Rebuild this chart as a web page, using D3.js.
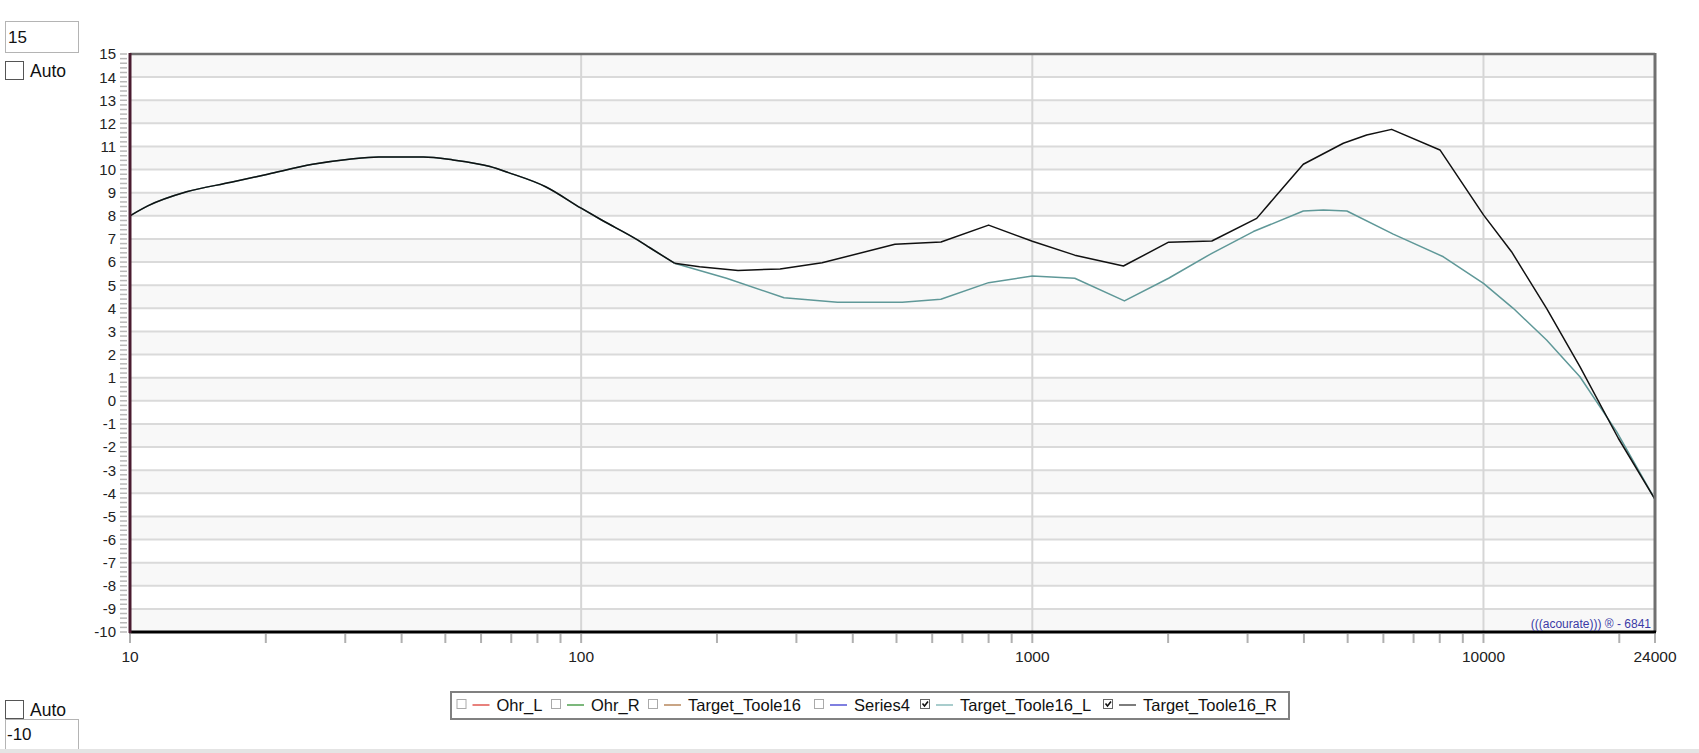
<!DOCTYPE html>
<html><head><meta charset="utf-8">
<script src="https://cdn.jsdelivr.net/npm/d3@7"></script>
<style>
html,body{margin:0;padding:0;background:#fff;overflow:hidden;}
svg{display:block;font-family:"Liberation Sans",Arial,sans-serif;}
</style></head>
<body>
<svg id="chart" width="1699" height="753"></svg>
<script>
// ---- data ----
const freqR = [10, 10.95, 13.35, 16.75, 20.2, 25.4, 30.6, 35.6, 44.7, 52, 62.8, 69, 83.4, 100, 111, 133.6, 142, 161, 183, 222.7, 276, 342, 496, 627.5, 800, 1000, 1242, 1592, 2005, 2500, 3143, 3481, 3987, 4891, 5510, 6258, 8009, 10000, 11540, 13800, 16360, 19900, 24000];
const valR  = [8.0, 8.43, 9.04, 9.45, 9.8, 10.23, 10.45, 10.55, 10.55, 10.42, 10.13, 9.87, 9.26, 8.33, 7.82, 6.95, 6.62, 5.95, 5.8, 5.64, 5.7, 5.97, 6.77, 6.87, 7.6, 6.9, 6.3, 5.83, 6.86, 6.91, 7.89, 8.9, 10.23, 11.14, 11.5, 11.74, 10.85, 8.04, 6.45, 4.0, 1.48, -1.62, -4.26];
const freqL = [10, 10.95, 13.35, 16.75, 20.2, 25.4, 30.6, 35.6, 44.7, 52, 62.8, 69, 83.4, 100, 111, 133.6, 142, 161, 210, 281.6, 370, 515, 627, 800, 1000, 1242, 1600, 2005, 2500, 3090, 3987, 4416, 4980, 6310, 8150, 10000, 11640, 13800, 16360, 19730, 24000];
const valL  = [8.0, 8.43, 9.04, 9.45, 9.8, 10.23, 10.45, 10.55, 10.55, 10.42, 10.13, 9.87, 9.26, 8.33, 7.82, 6.95, 6.62, 5.95, 5.3, 4.46, 4.26, 4.26, 4.39, 5.11, 5.4, 5.3, 4.32, 5.3, 6.38, 7.32, 8.21, 8.25, 8.21, 7.21, 6.23, 5.08, 4.0, 2.63, 1.04, -1.33, -4.26];
const xTickLabels = [10, 100, 1000, 10000, 24000];
const xMinorTicks = [20,30,40,50,60,70,80,90,200,300,400,500,600,700,800,900,2000,3000,4000,5000,6000,7000,8000,9000,20000];
const xGridValues = [100, 1000, 10000];
const yTickValues = d3.range(-10, 16, 1);
const legendNames = ["Ohr_L", "Ohr_R", "Target_Toole16", "Series4", "Target_Toole16_L", "Target_Toole16_R"];
const legendChecked = [false, false, false, false, true, true];
const legendColors = ["#e8817c", "#7cb87c", "#c9a585", "#7f7fe0", "#a9cdcd", "#7d7d7d"];

// ---- layout ----
const svg = d3.select("#chart");
const L = 130, R = 1655, T = 54, B = 632;
const x = d3.scaleLog().domain([10, 24000]).range([L, R]);
const y = d3.scaleLinear().domain([-10, 15]).range([B, T]);

// bands
for (let v = 15; v > -10; v--) {
  const idx = 15 - v;
  svg.append("rect").attr("x", L).attr("y", y(v)).attr("width", R - L).attr("height", y(v - 1) - y(v))
    .attr("fill", idx % 2 === 0 ? "#f8f8f8" : "#ffffff");
}
// horizontal gridlines
svg.append("g").selectAll("line").data(yTickValues).join("line")
  .attr("x1", L).attr("x2", R).attr("y1", d => y(d)).attr("y2", d => y(d))
  .attr("stroke", "#dadada").attr("stroke-width", 2);
// vertical gridlines
svg.append("g").selectAll("line").data(xGridValues).join("line")
  .attr("x1", d => x(d)).attr("x2", d => x(d)).attr("y1", T).attr("y2", B)
  .attr("stroke", "#d6d6d6").attr("stroke-width", 2);

// y minor ticks
svg.append("g").selectAll("line").data(d3.range(0, 126).map(i => -10 + i * 0.2)).join("line")
  .attr("x1", 120).attr("x2", 127).attr("y1", d => y(d)).attr("y2", d => y(d))
  .attr("stroke", "#b8b8b8").attr("stroke-width", 1.5);
// y labels
svg.append("g").selectAll("text").data(yTickValues).join("text")
  .attr("x", 116).attr("y", d => y(d)).attr("dy", "0.36em").attr("text-anchor", "end")
  .attr("font-size", 15).attr("fill", "#222").text(d => d);

// x ticks
svg.append("g").selectAll("line").data(xTickLabels.concat(xMinorTicks)).join("line")
  .attr("x1", d => x(d)).attr("x2", d => x(d)).attr("y1", 634).attr("y2", 643)
  .attr("stroke", "#b0b0b0").attr("stroke-width", 2);
svg.append("g").selectAll("text").data(xTickLabels).join("text")
  .attr("x", d => x(d)).attr("y", 662).attr("text-anchor", "middle")
  .attr("font-size", 15.5).attr("fill", "#222").text(d => d);

// curves: smooth low-frequency part, straight segments above the split
const splitF = 161;
const smooth = d3.line().x(d => x(d[0])).y(d => y(d[1])).curve(d3.curveMonotoneX);
const straight = d3.line().x(d => x(d[0])).y(d => y(d[1])).curve(d3.curveLinear);
function drawSeries(fs, vs, color) {
  const pts = fs.map((f, i) => [f, vs[i]]);
  const lo = pts.filter(p => p[0] <= splitF);
  const hi = pts.filter(p => p[0] >= splitF);
  svg.append("path").attr("d", smooth(lo)).attr("fill", "none").attr("stroke", color).attr("stroke-width", 1.5);
  svg.append("path").attr("d", straight(hi)).attr("fill", "none").attr("stroke", color).attr("stroke-width", 1.5)
    .attr("stroke-linejoin", "round");
}
drawSeries(freqL, valL, "#5f9898");
drawSeries(freqR, valR, "#111");

// frame
svg.append("line").attr("x1", L).attr("x2", R).attr("y1", T).attr("y2", T).attr("stroke", "#707070").attr("stroke-width", 2.5);
svg.append("line").attr("x1", R).attr("x2", R).attr("y1", T - 1).attr("y2", B).attr("stroke", "#707070").attr("stroke-width", 3);
svg.append("line").attr("x1", L - 1).attr("x2", R + 1).attr("y1", B).attr("y2", B).attr("stroke", "#000").attr("stroke-width", 3);
svg.append("line").attr("x1", L).attr("x2", L).attr("y1", T - 1).attr("y2", B + 1).attr("stroke", "#4a1c30").attr("stroke-width", 3);

// watermark
svg.append("text").attr("x", 1651).attr("y", 628).attr("text-anchor", "end")
  .attr("font-size", 12).attr("fill", "#3b3ba6").text("(((acourate))) \u00AE - 6841");

// top-left controls
svg.append("rect").attr("x", 5.5).attr("y", 21.5).attr("width", 73).attr("height", 31).attr("fill", "#fff").attr("stroke", "#b4b4b4");
svg.append("text").attr("x", 8).attr("y", 43).attr("font-size", 17).attr("fill", "#111").text("15");
svg.append("rect").attr("x", 5.5).attr("y", 61.5).attr("width", 18).attr("height", 18).attr("fill", "#fff").attr("stroke", "#555");
svg.append("text").attr("x", 30).attr("y", 77).attr("font-size", 17.5).attr("fill", "#111").text("Auto");

// bottom-left controls
svg.append("rect").attr("x", 5.5).attr("y", 700.5).attr("width", 18).attr("height", 18).attr("fill", "#fff").attr("stroke", "#555");
svg.append("text").attr("x", 30).attr("y", 716).attr("font-size", 17.5).attr("fill", "#111").text("Auto");
svg.append("rect").attr("x", 5.5).attr("y", 719.5).attr("width", 73).attr("height", 31).attr("fill", "#fff").attr("stroke", "#b4b4b4");
svg.append("text").attr("x", 7).attr("y", 740).attr("font-size", 17).attr("fill", "#111").text("-10");
svg.append("rect").attr("x", 0).attr("y", 749).attr("width", 1699).attr("height", 4).attr("fill", "#e4e4e4");

// legend
svg.append("rect").attr("x", 451).attr("y", 692).attr("width", 838).attr("height", 27)
  .attr("fill", "#fff").attr("stroke", "#808080").attr("stroke-width", 2);
const boxX = [456.5, 551, 648, 814, 920, 1103];
const lg = svg.append("g");
legendNames.forEach((name, i) => {
  const bx = boxX[i];
  lg.append("rect").attr("x", bx + 0.5).attr("y", 699.5).attr("width", 9).attr("height", 9)
    .attr("fill", "#fff").attr("stroke", legendChecked[i] ? "#666" : "#aaa");
  if (legendChecked[i]) {
    lg.append("path").attr("d", `M${bx+2.5},${703.5} L${bx+4.5},${706} L${bx+8},${701.5}`)
      .attr("fill", "none").attr("stroke", "#111").attr("stroke-width", 1.6);
  }
  lg.append("line").attr("x1", bx + 16).attr("x2", bx + 33).attr("y1", 705).attr("y2", 705)
    .attr("stroke", legendColors[i]).attr("stroke-width", 2);
  lg.append("text").attr("x", bx + 40).attr("y", 711).attr("font-size", 16.5).attr("fill", "#111").text(name);
});
</script>
</body></html>
